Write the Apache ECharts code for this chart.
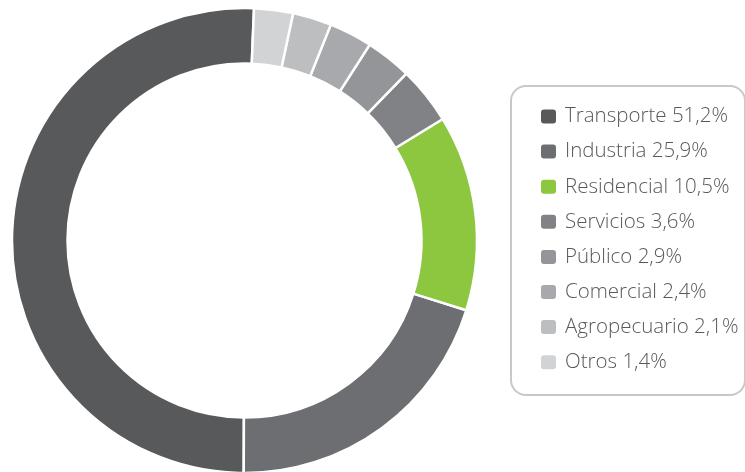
<!DOCTYPE html>
<html>
<head>
<meta charset="utf-8">
<script src="https://cdn.jsdelivr.net/npm/echarts@6/dist/echarts.min.js"></script>
<style>
  html, body { margin: 0; padding: 0; background: #fff; }
  #chart { width: 745px; height: 472px; }
</style>
</head>
<body>
<div id="chart"></div>
<script>
// sectores en orden de la leyenda
const names = ['Transporte', 'Industria', 'Residencial', 'Servicios', 'Público', 'Comercial', 'Agropecuario', 'Otros']
// porcentajes impresos en la leyenda
const shares = ['51,2%', '25,9%', '10,5%', '3,6%', '2,9%', '2,4%', '2,1%', '1,4%']
// tamaño de cada sector tal como se ve dibujado en el anillo
const values = [50.6, 20.2, 13.6, 4.0, 3.2, 3.0, 2.7, 2.7]
const colors = ['#58595b', '#6d6e71', '#8dc63f', '#808285', '#939598', '#a7a9ac', '#bcbec0', '#d1d3d4']

const chart = echarts.init(document.getElementById('chart'))

chart.setOption({
    animation: false,
    color: colors,
    graphic: [
        {
            type: 'rect',
            shape: { x: 511, y: 86, width: 234, height: 309, r: 15 },
            style: { fill: 'none', stroke: '#c8c8c8', lineWidth: 2 },
            silent: true
        }
    ],
    legend: {
        orient: 'vertical',
        left: 534,
        top: 101,
        itemWidth: 17,
        itemHeight: 16,
        itemGap: 14.1,
        icon: 'roundRect',
        data: names,
        formatter: function (name) {
            return name + ' ' + shares[names.indexOf(name)]
        },
        textStyle: {
            fontFamily: 'Open Sans',
            fontWeight: 300,
            fontSize: 20.5,
            lineHeight: 20,
            color: '#58595b',
            padding: [0, 0, 0, 3]
        },
        selectedMode: false
    },
    series: [
        {
            type: 'pie',
            center: [244.5, 240.5],
            radius: [177, 232.5],
            clockwise: false,
            startAngle: 87.65,
            label: { show: false },
            labelLine: { show: false },
            emphasis: { disabled: true },
            itemStyle: {
                borderColor: '#fff',
                borderWidth: 2.5
            },
            data: names.map(function (n, i) {
                return { name: n, value: values[i] }
            })
        }
    ]
})

window.addEventListener('resize', () => {
    chart.resize()
})
</script>
</body>
</html>
